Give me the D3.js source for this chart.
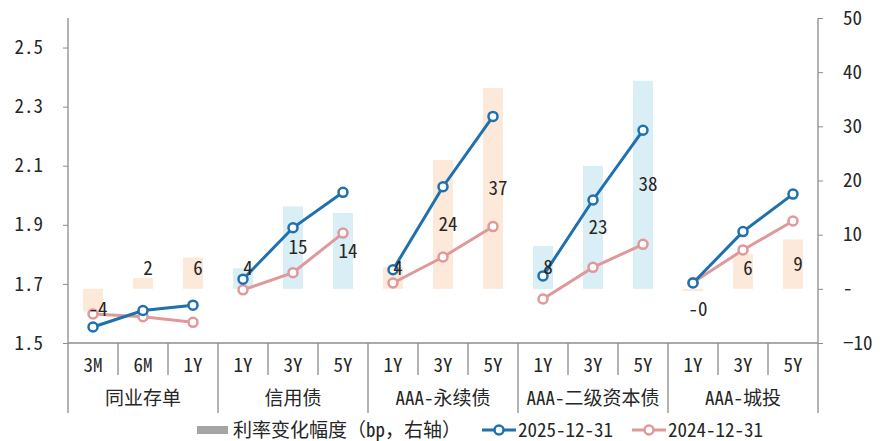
<!DOCTYPE html>
<html>
<head>
<meta charset="utf-8">
<script src="https://cdn.jsdelivr.net/npm/d3@7"></script>
<style>
  body { margin: 0; background: #fff; }
  svg text { font-family: "Noto Sans Mono CJK SC", "Noto Sans CJK SC", "Liberation Mono", monospace; fill: #262626; }
</style>
</head>
<body>
<div id="chart"></div>
<script>
// groups and tenors
const groups = ["同业存单", "信用债", "AAA-永续债", "AAA-二级资本债", "AAA-城投"];
const tenors = [
  ["3M", "6M", "1Y"],
  ["1Y", "3Y", "5Y"],
  ["1Y", "3Y", "5Y"],
  ["1Y", "3Y", "5Y"],
  ["1Y", "3Y", "5Y"]
];
const barColors = ["#FDE9DA", "#DAEEF5", "#FDE9DA", "#DAEEF5", "#FDE9DA"];

// yields (%), left axis
const y2025 = [1.554, 1.610, 1.628, 1.716, 1.890, 2.010, 1.748, 2.029, 2.267, 1.727, 1.984, 2.220, 1.703, 1.877, 2.004];
const y2024 = [1.598, 1.589, 1.570, 1.680, 1.738, 1.872, 1.703, 1.791, 1.894, 1.649, 1.756, 1.834, 1.705, 1.815, 1.913];
// rate change (bp), right axis
const change = [-4.2, 2.0, 5.8, 3.8, 15.2, 14.0, 4.0, 23.8, 37.1, 7.9, 22.7, 38.4, -0.4, 6.4, 9.1];

const leftTicks = [1.5, 1.7, 1.9, 2.1, 2.3, 2.5];
const rightTicks = [-10, 0, 10, 20, 30, 40, 50];

const BLUE = "#1F70AE", PINK = "#E0999A", AXIS = "#8c8c8c";

const margin = {top: 18, right: 67, bottom: 98, left: 68};
const W = 885, H = 441;
const width = W - margin.left - margin.right;
const height = H - margin.top - margin.bottom;

const svg = d3.select("#chart").append("svg")
  .attr("width", W).attr("height", H)
  .append("g")
  .attr("transform", "translate(" + margin.left + "," + margin.top + ")");

// flat categories
const cats = [];
tenors.forEach((t, g) => t.forEach((name, i) => cats.push({g: g, name: name, pos: i, idx: cats.length})));

const x = d3.scaleBand().domain(cats.map(d => d.idx)).range([0, width]);
const yL = d3.scaleLinear().domain([1.5, 2.6]).range([height, 0]);
const yR = d3.scaleLinear().domain([-10, 50]).range([height, 0]);
const cx = d => x(d.idx) + x.bandwidth() / 2;

// bars
const barW = 20;
svg.selectAll(".bar").data(cats).enter().append("rect")
  .attr("x", d => cx(d) - barW / 2)
  .attr("width", barW)
  .attr("y", d => yR(Math.max(0, change[d.idx])))
  .attr("height", d => Math.abs(yR(change[d.idx]) - yR(0)))
  .attr("fill", d => barColors[d.g]);

// left axis
const axL = svg.append("g")
  .call(d3.axisLeft(yL).tickValues(leftTicks).tickSize(5).tickPadding(20).tickFormat(d3.format(".1f")));
axL.select(".domain").remove();
axL.selectAll("line").attr("stroke", AXIS);
axL.selectAll("text").style("font-size", "19px");
svg.append("line").attr("x1", 0).attr("x2", 0).attr("y1", 0).attr("y2", height + 70)
  .attr("stroke", AXIS).attr("stroke-width", 1.3);

// right axis
const axR = svg.append("g").attr("transform", "translate(" + width + ",0)")
  .call(d3.axisRight(yR).tickValues(rightTicks).tickSize(5).tickPadding(20)
    .tickFormat(d => d === 0 ? "-" : d3.format("d")(d)));
axR.select(".domain").remove();
axR.selectAll("line").attr("stroke", AXIS);
axR.selectAll("text").style("font-size", "19px").attr("text-anchor", "start");
svg.append("line").attr("x1", width).attr("x2", width).attr("y1", 0).attr("y2", height + 70)
  .attr("stroke", AXIS).attr("stroke-width", 1.3);

// x baseline
svg.append("line").attr("x1", 0).attr("x2", width).attr("y1", height).attr("y2", height)
  .attr("stroke", AXIS).attr("stroke-width", 1.3);

// category separators and labels
cats.forEach(d => {
  const left = x(d.idx);
  if (d.idx > 0) {
    svg.append("line").attr("x1", left).attr("x2", left)
      .attr("y1", height).attr("y2", height + (d.pos === 0 ? 70 : 32))
      .attr("stroke", AXIS).attr("stroke-width", 1.3);
  }
  svg.append("text")
    .attr("x", cx(d)).attr("y", height + 22)
    .attr("dy", "0.35em").attr("text-anchor", "middle")
    .style("font-size", "19px").text(d.name);
});

// group labels
groups.forEach((g, gi) => {
  const idxs = cats.filter(c => c.g === gi).map(c => c.idx);
  const mid = (x(idxs[0]) + x(idxs[idxs.length - 1]) + x.bandwidth()) / 2;
  svg.append("text").attr("x", mid).attr("y", height + 55).attr("dy", "0.35em")
    .attr("text-anchor", "middle").style("font-size", "19px").text(g);
});

// lines per group
function drawSeries(values, color) {
  const line = d3.line().x(cx).y(d => yL(values[d.idx]));
  groups.forEach((g, gi) => {
    svg.append("path").datum(cats.filter(c => c.g === gi))
      .attr("fill", "none").attr("stroke", color).attr("stroke-width", 3)
      .attr("d", line);
  });
  svg.selectAll(null).data(cats).enter().append("circle")
    .attr("cx", cx)
    .attr("cy", d => yL(values[d.idx]))
    .attr("r", 4.5)
    .attr("fill", "#fff").attr("stroke", color).attr("stroke-width", 2.5);
}
drawSeries(y2024, PINK);
drawSeries(y2025, BLUE);

// bar labels
function labelText(v) {
  const r = Math.round(v);
  return (v < 0 && r === 0) ? "-0" : String(r);
}
svg.selectAll(".lbl").data(cats).enter().append("text")
  .attr("x", d => cx(d) + 5)
  .attr("y", d => {
    const v = change[d.idx];
    const mid = (yR(v) + yR(0)) / 2;
    return v >= 0 ? Math.min(mid, yR(0) - 20) : Math.max(mid, yR(0) + 21);
  })
  .attr("dy", "0.35em").attr("text-anchor", "middle")
  .style("font-size", "19px")
  .text(d => labelText(change[d.idx]));

// legend
const lg = svg.append("g").attr("transform", "translate(" + (-margin.left) + "," + (H - margin.top - 11) + ")");
lg.append("rect").attr("x", 197).attr("y", -4).attr("width", 31).attr("height", 8).attr("fill", "#A5A5A5");
lg.append("text").attr("x", 233).attr("dy", "0.35em").style("font-size", "19px").text("利率变化幅度（bp，右轴）");
[[BLUE, "2025-12-31", 482], [PINK, "2024-12-31", 632]].forEach(([c, t, x0]) => {
  lg.append("line").attr("x1", x0).attr("x2", x0 + 34)
    .attr("stroke", c).attr("stroke-width", 3);
  lg.append("circle").attr("cx", x0 + 17).attr("r", 4.5)
    .attr("fill", "#fff").attr("stroke", c).attr("stroke-width", 2.5);
  lg.append("text").attr("x", x0 + 36).attr("dy", "0.35em").style("font-size", "19px").text(t);
});
</script>
</body>
</html>
